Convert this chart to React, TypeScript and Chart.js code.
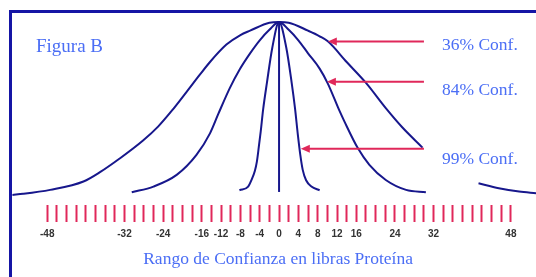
import React, { useEffect, useRef } from 'react';
import { Chart, registerables } from 'chart.js';

Chart.register(...registerables);

// Widest curve (36% Conf.) — gap where the label box hides it
const conf36X = [-55.2, -53, -47.4, -40.5, -37, -33, -28.1, -25, -22.2, -19.1, -16.4, -14.3, -10.9, -8, -6, -2, 0, 2, 6, 8.4, 10.1, 14, 18, 22.1, 25.5, 29.7, 35, 41.3, 45.5, 49.7, 53.2];
const conf36Y = [0.6, 1.2, 3.5, 8.3, 13.8, 21.5, 32, 40, 49, 60, 69.7, 77, 87, 92.5, 95, 99.6, 100, 99.6, 95, 91.8, 88.9, 77, 65, 50.5, 39.5, 27.8, null, 7.3, 4.4, 2.5, 1.6];

// Middle curve (84% Conf.)
const conf84X = [-30.5, -26, -21.2, -17.1, -14.3, -12.6, -10.2, -8.1, -6, -4, -2, 0, 2, 4, 6, 8.4, 10.1, 12.5, 13.5, 16.3, 18.7, 22.1, 26.3, 30.4];
const conf84Y = [2.1, 5.4, 12.1, 23.6, 36, 47, 62, 73, 82, 89.5, 95.5, 100, 95.5, 89.5, 82, 73.2, 64.6, 49, 43, 27.5, 17.9, 9.2, 3.5, 2.1];

// Narrow curve (99% Conf.)
const conf99X = [-8.2, -6.4, -5.7, -5.0, -4.6, -4.2, -3.8, -3.3, -2.5, -1.4, 0, 1.5, 2.6, 3.3, 3.9, 4.4, 4.9, 5.6, 6.7, 8.4];
const conf99Y = [3.3, 5.4, 9.2, 14.5, 19.6, 28, 37, 49.6, 65.3, 85.2, 100, 85.2, 65.3, 50.5, 35, 23.6, 15, 9, 5.4, 3.3];

// Center line
const centerX = [0, 0];
const centerY = [2.3, 100];

// Axis ticks
const tickValues = [-48, -46, -44, -42, -40, -38, -36, -34, -32, -30, -28, -26, -24, -22, -20, -18, -16, -14, -12, -10, -8, -6, -4, -2, 0, 2, 4, 6, 8, 10, 12, 14, 16, 18, 20, 22, 24, 26, 28, 30, 32, 34, 36, 38, 40, 42, 44, 46, 48];
const tickLabels = [-48, -32, -24, -16, -12, -8, -4, 0, 4, 8, 12, 16, 24, 32, 48];

// Arrow annotations
const arrowLabels = ['36% Conf.', '84% Conf.', '99% Conf.'];
const arrowY = [88.8, 65.7, 27.1];
const arrowTipX = [10.1, 9.9, 4.5];
const arrowTailX = [30, 30, 30];

const figureTitle = 'Figura B';
const axisTitle = 'Rango de Confianza en libras Proteína';

const CURVE = '#17178c';
const RED = '#e0285a';
const TEXT_BLUE = '#4b6ef5';

function pts(xs: number[], ys: (number | null)[]) {
  return xs.map((x, i) => ({ x, y: ys[i] }));
}

const decorPlugin = {
  id: 'decor',
  beforeDraw(chart: any) {
    const ctx = chart.ctx;
    ctx.save();
    ctx.fillStyle = '#ffffff';
    ctx.fillRect(0, 0, chart.width, chart.height);
    ctx.fillStyle = '#1515a5';
    ctx.fillRect(9, 10, 3, chart.height - 10);
    ctx.fillRect(9, 10, chart.width - 9, 3);
    ctx.restore();
  },
  afterDatasetsDraw(chart: any) {
    const ctx = chart.ctx;
    const xs = chart.scales.x;
    const ys = chart.scales.y;
    ctx.save();
    const offsets = [9, 13, 15];
    arrowLabels.forEach((label, i) => {
      const y = ys.getPixelForValue(arrowY[i]);
      const xTip = xs.getPixelForValue(arrowTipX[i]);
      const xTail = xs.getPixelForValue(arrowTailX[i]);
      ctx.strokeStyle = RED;
      ctx.lineWidth = 2;
      ctx.beginPath();
      ctx.moveTo(xTail, y);
      ctx.lineTo(xTip + 6, y);
      ctx.stroke();
      ctx.fillStyle = RED;
      ctx.beginPath();
      ctx.moveTo(xTip, y);
      ctx.lineTo(xTip + 9, y - 4);
      ctx.lineTo(xTip + 9, y + 4);
      ctx.closePath();
      ctx.fill();
      ctx.fillStyle = TEXT_BLUE;
      ctx.font = '17.5px "Liberation Serif"';
      ctx.textAlign = 'left';
      ctx.textBaseline = 'alphabetic';
      ctx.fillText(label, xTail + 18, y + offsets[i]);
    });
    ctx.fillStyle = TEXT_BLUE;
    ctx.font = '19px "Liberation Serif"';
    ctx.textAlign = 'left';
    ctx.fillText(figureTitle, 36, 52);
    ctx.font = '17.5px "Liberation Serif"';
    ctx.textAlign = 'center';
    ctx.fillText(axisTitle, xs.getPixelForValue(0) - 1, 264);
    ctx.restore();
  },
};

export default function App() {
  const ref = useRef<HTMLCanvasElement | null>(null);

  useEffect(() => {
    if (!ref.current) return;
    const lineDs = (data: any[]) => ({
      data,
      borderColor: CURVE,
      borderWidth: 2,
      pointRadius: 0,
      fill: false,
      cubicInterpolationMode: 'monotone' as const,
      spanGaps: false,
      clip: false as any,
    });
    const chart = new Chart(ref.current, {
      type: 'line',
      data: {
        datasets: [
          lineDs(pts(conf36X, conf36Y)),
          lineDs(pts(conf84X, conf84Y)),
          lineDs(pts(conf99X, conf99Y)),
          { ...lineDs(pts(centerX, centerY)), cubicInterpolationMode: 'default' as const, tension: 0 },
        ],
      },
      options: {
        animation: false,
        responsive: false,
        maintainAspectRatio: false,
        layout: { padding: { left: 11, top: 22, right: 0, bottom: 0 } },
        plugins: { legend: { display: false }, tooltip: { enabled: false } },
        scales: {
          x: {
            type: 'linear',
            min: -55.5,
            max: 53.2,
            border: { display: false },
            grid: {
              display: true,
              drawOnChartArea: false,
              drawTicks: true,
              tickLength: 17,
              tickColor: RED,
              tickWidth: 2,
            },
            ticks: {
              autoSkip: false,
              maxRotation: 0,
              minRotation: 0,
              padding: 6,
              color: '#333333',
              font: { family: 'Liberation Sans', size: 10, weight: 'bold' },
              callback: (v: any) => (tickLabels.includes(Number(v)) ? String(v) : ''),
            },
            afterBuildTicks: (s: any) => {
              s.ticks = tickValues.map((value) => ({ value }));
            },
            afterFit: (s: any) => {
              s.height = 72;
            },
          },
          y: { display: false, min: -5.2, max: 100 },
        },
      } as any,
      plugins: [decorPlugin],
    });
    return () => chart.destroy();
  }, []);

  return (
    <div style={{ position: 'absolute', left: 0, top: 0, width: 536, height: 277 }}>
      <canvas ref={ref} width={536} height={277} style={{ display: 'block' }} />
    </div>
  );
}
